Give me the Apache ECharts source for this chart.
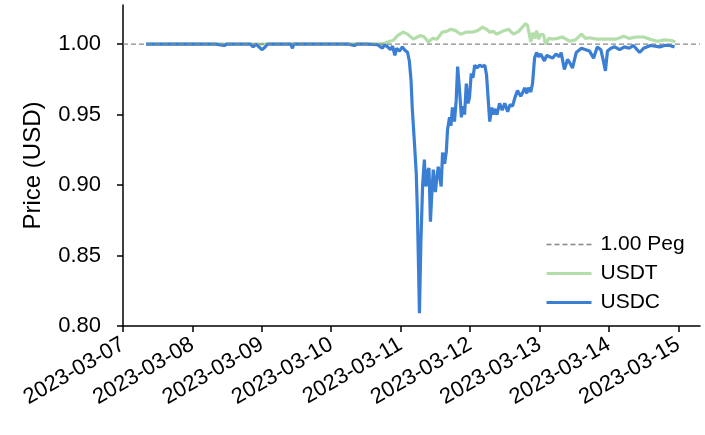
<!DOCTYPE html>
<html>
<head>
<meta charset="utf-8">
<script src="https://cdn.jsdelivr.net/npm/echarts@6/dist/echarts.min.js"></script>
<style>
html,body{margin:0;padding:0;background:#fff;}
#chart{width:705px;height:435px;}
</style>
</head>
<body>
<div id="chart"></div>
<script>
// Hours since 2023-03-07 00:00 UTC
const usdcHours = [8,12,16,20,24,28,32,35,36,40,44,45,46,48,49,50,54,58,58.6,59,62,66,70,74,78,80,81,84,88,89.7,90.4,91.5,92.5,93.2,94,94.6,95.6,96.6,97.3,98.4,99,99.6,100,100.7,101.4,101.8,102.2,102.5,103,103.6,104.2,104.5,104.8,105.3,105.8,106.3,106.8,107.3,107.6,108,108.5,109,109.5,110,110.5,111.2,111.8,112.2,112.9,113.4,113.9,114.6,115.2,115.7,116.4,117,117.5,118.1,118.7,119.3,119.8,120.4,121,121.6,122.4,123.3,124.2,125.1,125.7,126.8,127.5,128,128.5,129.3,130.2,131.1,132,133,133.8,134.7,135.5,136.4,137.5,138.3,138.9,139.6,140.2,141,141.6,142.3,143,143.7,144.4,145.7,146.5,147.5,148.5,149.7,150.9,151.5,152.6,153.7,154.4,155.4,156.7,158.5,160,161.3,162.7,164,165.2,166.1,166.8,167.5,168.7,170,171.7,173.4,175,176.5,178.6,180,182.4,184,185.5,187.3,189,190.7];
const usdcPrice = [1.0000,0.9999,1.0000,1.0000,0.9999,1.0000,1.0000,0.9990,1.0000,1.0000,0.9999,0.9980,1.0000,0.9960,0.9975,1.0000,0.9999,1.0000,0.9970,1.0000,1.0000,0.9999,1.0000,1.0000,0.9999,0.9990,1.0000,1.0000,0.9995,0.9970,0.9995,0.9980,0.9960,0.9985,0.9920,0.9970,0.9950,0.9980,0.9960,0.9940,0.9880,0.9740,0.9550,0.9320,0.9080,0.8800,0.8400,0.8090,0.8600,0.9000,0.9180,0.9020,0.8990,0.9100,0.9120,0.8740,0.8950,0.9110,0.9020,0.8950,0.9050,0.9130,0.9060,0.8990,0.9230,0.9150,0.9240,0.9390,0.9480,0.9420,0.9550,0.9450,0.9600,0.9840,0.9660,0.9480,0.9560,0.9500,0.9720,0.9580,0.9620,0.9790,0.9760,0.9850,0.9830,0.9850,0.9840,0.9850,0.9780,0.9450,0.9550,0.9500,0.9540,0.9500,0.9580,0.9530,0.9580,0.9520,0.9570,0.9560,0.9620,0.9670,0.9630,0.9660,0.9690,0.9650,0.9690,0.9660,0.9720,0.9900,0.9940,0.9910,0.9930,0.9880,0.9920,0.9910,0.9900,0.9930,0.9910,0.9940,0.9820,0.9890,0.9870,0.9830,0.9940,0.9970,0.9960,0.9950,0.9900,0.9980,0.9960,0.9880,0.9810,0.9950,0.9970,0.9980,0.9960,0.9980,0.9970,0.9990,0.9940,0.9970,0.9990,0.9985,0.9980,0.9990,0.9990,0.9980];

const usdtHours = [8,20,40,60,80,89,90.4,92.2,93.4,94.9,96.9,98.4,100.4,101.8,102.8,104.2,105.6,107,108.6,110.4,111.9,113.3,115,116.7,118.8,120.9,122.6,124.3,125.7,126.8,128.1,129.1,131.2,133.3,135,136.8,138.1,139.2,139.9,141,141.6,142.3,143,143.7,144.4,145.4,146.1,147.2,148.5,150.2,151.9,154.4,156.5,158.5,159.9,161.3,163.7,166.5,168.9,170.6,173.1,175.1,177.5,180,182.1,184.8,187.2,189.7,191];
const usdtPrice = [1.0000,1.0001,1.0000,1.0001,1.0001,1.0003,1.0005,1.0020,1.0025,1.0060,1.0085,1.0070,1.0035,1.0050,1.0060,1.0050,1.0015,1.0040,1.0035,1.0085,1.0090,1.0105,1.0095,1.0070,1.0085,1.0085,1.0095,1.0120,1.0105,1.0085,1.0090,1.0070,1.0090,1.0105,1.0070,1.0090,1.0120,1.0145,1.0130,1.0015,1.0080,1.0040,1.0095,1.0035,1.0070,1.0065,1.0000,1.0040,1.0035,1.0040,1.0050,1.0020,1.0030,1.0070,1.0040,1.0045,1.0035,1.0035,1.0035,1.0035,1.0055,1.0040,1.0050,1.0050,1.0035,1.0020,1.0030,1.0025,1.0015];

const pegValue = 1.00;
const yTicks = [0.80,0.85,0.90,0.95,1.00];

const base = Date.UTC(2023,2,7);
const H = 3600e3;
const DAY = 24*H;
const xMin = base;
const xMax = Date.UTC(2023,2,15,7,30);
const yMin = 0.80, yMax = 1.0277;

const toPairs = (hs, vs) => hs.map((h,i)=>[base + h*H, vs[i]]);
const pad = n => (n<10?'0':'')+n;
const fmtDay = v => { const d = new Date(v); return d.getUTCFullYear()+'-'+pad(d.getUTCMonth()+1)+'-'+pad(d.getUTCDate()); };

const FONT = 'Liberation Sans';
const GREEN = '#b3dda9', BLUE = '#3b7fd4', GREY = '#888888';
const chart = echarts.init(document.getElementById('chart'), null, {renderer:'canvas'});
chart.setOption({
  useUTC: true,
  animation: false,
  backgroundColor: '#ffffff',
  textStyle: {fontFamily: FONT},
  grid: {left: 123, right: 5, top: 5, bottom: 109},
  legend: {
    orient: 'vertical', left: 540, top: 229,
    itemWidth: 45, itemHeight: 14, itemGap: 8,
    itemStyle: {opacity: 0},
    textStyle: {fontFamily: FONT, fontSize: 21, color: '#000', padding: [0,0,0,4]},
    data: [
      {name: '1.00 Peg', lineStyle: {width: 1.3}},
      {name: 'USDT', lineStyle: {width: 3}},
      {name: 'USDC', lineStyle: {width: 3}}
    ]
  },
  xAxis: {
    type: 'time', min: xMin, max: xMax,
    minInterval: DAY, maxInterval: DAY,
    axisLine: {lineStyle: {color: '#000', width: 1.5}},
    axisTick: {show: true, length: 6, lineStyle: {color:'#000', width: 1.5}},
    axisLabel: {
      rotate: 30, fontSize: 22, color: '#000', fontFamily: FONT, margin: 17,
      hideOverlap: false, showMinLabel: true, showMaxLabel: false,
      formatter: v => fmtDay(v)
    },
    splitLine: {show: false}
  },
  yAxis: {
    type: 'value', min: yMin, max: yMax,
    name: 'Price (USD)', nameLocation: 'middle', nameGap: 78,
    nameTextStyle: {fontSize: 24, color: '#000', fontFamily: FONT},
    axisLine: {show: true, lineStyle: {color: '#000', width: 1.5}},
    axisTick: {show: true, length: 6, lineStyle: {color:'#000', width: 1.5}, customValues: yTicks},
    axisLabel: {customValues: yTicks, fontSize: 22, color: '#000', fontFamily: FONT, margin: 22,
      formatter: v => v.toFixed(2)},
    splitLine: {show: false}
  },
  series: [
    {name: 'USDT', type: 'line', showSymbol: false, symbol: 'none', z: 2,
     lineStyle: {color: GREEN, width: 3.2}, itemStyle: {color: GREEN},
     data: toPairs(usdtHours, usdtPrice)},
    {name: 'USDC', type: 'line', showSymbol: false, symbol: 'none', z: 3,
     lineStyle: {color: BLUE, width: 3.2}, itemStyle: {color: BLUE},
     data: toPairs(usdcHours, usdcPrice)},
    {name: '1.00 Peg', type: 'line', showSymbol: false, symbol: 'none', z: 4,
     lineStyle: {color: GREY, width: 1.3, type: [5,3]}, itemStyle: {color: GREY},
     data: [[xMin, pegValue],[xMax, pegValue]]}
  ]
});
</script>
</body>
</html>
